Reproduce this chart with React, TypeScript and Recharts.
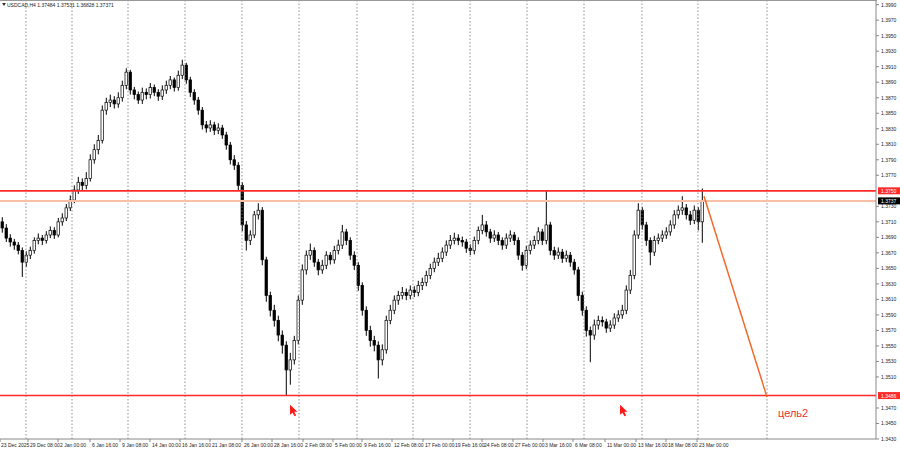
import React from 'react';
import { ComposedChart, Bar, XAxis, YAxis, ReferenceLine, ReferenceDot } from 'recharts';

// USDCAD H4 (aggregated candles), prices
const opens = [
  1.3710,1.3702,1.3689,1.3684,1.3680,1.3673,1.3658,1.3667,1.3673,1.3686,
  1.3689,1.3686,1.3693,1.3699,1.3693,1.3710,1.3715,1.3728,1.3738,1.3751,
  1.3761,1.3757,1.3766,1.3790,1.3803,1.3815,1.3854,1.3864,1.3867,1.3862,
  1.3870,1.3886,1.3903,1.3880,1.3874,1.3867,1.3877,1.3874,1.3883,1.3877,
  1.3872,1.3880,1.3886,1.3893,1.3883,1.3899,1.3912,1.3893,1.3877,1.3867,
  1.3854,1.3835,1.3831,1.3835,1.3828,1.3831,1.3822,1.3809,1.3790,1.3783,
  1.3757,1.3706,1.3686,1.3693,1.3719,1.3725,1.3661,1.3615,1.3596,1.3583,
  1.3564,1.3551,1.3519,1.3532,1.3557,1.3609,1.3648,1.3667,1.3673,1.3658,
  1.3648,1.3654,1.3667,1.3661,1.3673,1.3680,1.3697,1.3686,1.3667,1.3654,
  1.3628,1.3596,1.3570,1.3557,1.3551,1.3532,1.3545,1.3583,1.3596,1.3609,
  1.3615,1.3619,1.3615,1.3622,1.3619,1.3628,1.3632,1.3641,1.3650,1.3658,
  1.3663,1.3671,1.3680,1.3686,1.3689,1.3686,1.3684,1.3676,1.3673,1.3686,
  1.3699,1.3706,1.3697,1.3689,1.3693,1.3686,1.3680,1.3689,1.3693,1.3686,
  1.3667,1.3654,1.3673,1.3680,1.3686,1.3697,1.3686,1.3706,1.3673,1.3667,
  1.3671,1.3663,1.3667,1.3658,1.3648,1.3615,1.3596,1.3570,1.3564,1.3577,
  1.3583,1.3581,1.3573,1.3577,1.3586,1.3590,1.3596,1.3622,1.3641,1.3693,
  1.3725,1.3706,1.3686,1.3671,1.3686,1.3689,1.3693,1.3697,1.3706,1.3719,
  1.3725,1.3728,1.3719,1.3712,1.3725,1.3710,
];
const closes = [
  1.3702,1.3689,1.3684,1.3680,1.3673,1.3658,1.3667,1.3673,1.3686,1.3689,
  1.3686,1.3693,1.3699,1.3693,1.3710,1.3715,1.3728,1.3738,1.3751,1.3761,
  1.3757,1.3766,1.3790,1.3803,1.3815,1.3854,1.3864,1.3867,1.3862,1.3870,
  1.3886,1.3903,1.3880,1.3874,1.3867,1.3877,1.3874,1.3883,1.3877,1.3872,
  1.3880,1.3886,1.3893,1.3883,1.3899,1.3912,1.3893,1.3877,1.3867,1.3854,
  1.3835,1.3831,1.3835,1.3828,1.3831,1.3822,1.3809,1.3790,1.3783,1.3757,
  1.3706,1.3686,1.3693,1.3719,1.3725,1.3661,1.3615,1.3596,1.3583,1.3564,
  1.3551,1.3519,1.3532,1.3557,1.3609,1.3648,1.3667,1.3673,1.3658,1.3648,
  1.3654,1.3667,1.3661,1.3673,1.3680,1.3697,1.3686,1.3667,1.3654,1.3628,
  1.3596,1.3570,1.3557,1.3551,1.3532,1.3545,1.3583,1.3596,1.3609,1.3615,
  1.3619,1.3615,1.3622,1.3619,1.3628,1.3632,1.3641,1.3650,1.3658,1.3663,
  1.3671,1.3680,1.3686,1.3689,1.3686,1.3684,1.3676,1.3673,1.3686,1.3699,
  1.3706,1.3697,1.3689,1.3693,1.3686,1.3680,1.3689,1.3693,1.3686,1.3667,
  1.3654,1.3673,1.3680,1.3686,1.3697,1.3686,1.3706,1.3673,1.3667,1.3671,
  1.3663,1.3667,1.3658,1.3648,1.3615,1.3596,1.3570,1.3564,1.3577,1.3583,
  1.3581,1.3573,1.3577,1.3586,1.3590,1.3596,1.3622,1.3641,1.3693,1.3725,
  1.3706,1.3686,1.3671,1.3686,1.3689,1.3693,1.3697,1.3706,1.3719,1.3725,
  1.3728,1.3719,1.3712,1.3725,1.3710,1.3737,
];
const highs = [
  1.3716,1.3707,1.3694,1.3688,1.3684,1.3677,1.3672,1.3678,1.3690,1.3695,
  1.3693,1.3698,1.3704,1.3703,1.3715,1.3721,1.3733,1.3744,1.3757,1.3768,
  1.3766,1.3774,1.3797,1.3810,1.3822,1.3860,1.3870,1.3874,1.3872,1.3877,
  1.3892,1.3908,1.3906,1.3884,1.3878,1.3883,1.3882,1.3889,1.3887,1.3881,
  1.3886,1.3892,1.3898,1.3896,1.3905,1.3919,1.3915,1.3897,1.3881,1.3871,
  1.3858,1.3840,1.3841,1.3839,1.3837,1.3835,1.3826,1.3813,1.3796,1.3787,
  1.3761,1.3711,1.3699,1.3724,1.3734,1.3729,1.3665,1.3620,1.3603,1.3589,
  1.3570,1.3556,1.3541,1.3563,1.3615,1.3655,1.3673,1.3682,1.3677,1.3662,
  1.3661,1.3672,1.3671,1.3679,1.3687,1.3706,1.3701,1.3690,1.3672,1.3658,
  1.3632,1.3601,1.3576,1.3563,1.3556,1.3552,1.3589,1.3603,1.3615,1.3621,
  1.3626,1.3624,1.3628,1.3627,1.3634,1.3638,1.3647,1.3656,1.3664,1.3670,
  1.3677,1.3686,1.3693,1.3696,1.3694,1.3691,1.3688,1.3681,1.3691,1.3704,
  1.3719,1.3711,1.3701,1.3699,1.3697,1.3690,1.3695,1.3699,1.3697,1.3690,
  1.3671,1.3679,1.3686,1.3692,1.3703,1.3701,1.3751,1.3710,1.3678,1.3677,
  1.3675,1.3673,1.3671,1.3662,1.3652,1.3620,1.3601,1.3575,1.3584,1.3589,
  1.3588,1.3585,1.3583,1.3592,1.3596,1.3603,1.3628,1.3648,1.3699,1.3734,
  1.3729,1.3710,1.3690,1.3692,1.3695,1.3699,1.3703,1.3712,1.3725,1.3731,
  1.3743,1.3733,1.3724,1.3731,1.3729,1.3753,
];
const lows = [
  1.3696,1.3684,1.3678,1.3674,1.3668,1.3639,1.3652,1.3662,1.3669,1.3681,
  1.3680,1.3682,1.3689,1.3688,1.3690,1.3705,1.3711,1.3724,1.3734,1.3746,
  1.3750,1.3752,1.3762,1.3785,1.3797,1.3811,1.3848,1.3858,1.3856,1.3857,
  1.3865,1.3881,1.3874,1.3868,1.3862,1.3862,1.3868,1.3869,1.3872,1.3866,
  1.3867,1.3875,1.3881,1.3878,1.3879,1.3894,1.3888,1.3871,1.3861,1.3848,
  1.3829,1.3825,1.3826,1.3822,1.3823,1.3817,1.3803,1.3784,1.3777,1.3750,
  1.3698,1.3673,1.3680,1.3689,1.3713,1.3654,1.3607,1.3588,1.3575,1.3556,
  1.3540,1.3486,1.3500,1.3526,1.3552,1.3603,1.3642,1.3661,1.3652,1.3641,
  1.3643,1.3649,1.3655,1.3656,1.3668,1.3675,1.3680,1.3661,1.3648,1.3621,
  1.3589,1.3563,1.3549,1.3543,1.3508,1.3525,1.3540,1.3578,1.3591,1.3603,
  1.3610,1.3609,1.3610,1.3613,1.3614,1.3622,1.3627,1.3636,1.3645,1.3653,
  1.3658,1.3666,1.3675,1.3681,1.3680,1.3678,1.3670,1.3667,1.3668,1.3681,
  1.3694,1.3691,1.3683,1.3684,1.3680,1.3674,1.3675,1.3684,1.3680,1.3661,
  1.3647,1.3649,1.3668,1.3675,1.3681,1.3680,1.3681,1.3667,1.3661,1.3662,
  1.3657,1.3658,1.3652,1.3642,1.3608,1.3589,1.3562,1.3529,1.3558,1.3571,
  1.3575,1.3567,1.3568,1.3572,1.3581,1.3585,1.3591,1.3617,1.3636,1.3688,
  1.3700,1.3679,1.3654,1.3666,1.3681,1.3684,1.3688,1.3692,1.3701,1.3714,
  1.3719,1.3713,1.3706,1.3707,1.3699,1.3683,
];

const xTickPos = [-0.5, 6.5, 14, 22, 29.5, 37, 44.5, 52, 60, 67.5, 75.25, 82.75, 90, 97.5,
  105.25, 112.75, 120, 127.75, 135.25, 142.75, 150.75, 158.5, 166, 173.75];
const xTickLabels = ['23 Dec 2025', '29 Dec 08:00', '2 Jan 00:00', '6 Jan 16:00', '9 Jan 08:00',
  '14 Jan 00:00', '16 Jan 16:00', '21 Jan 08:00', '26 Jan 00:00', '28 Jan 16:00', '2 Feb 08:00',
  '5 Feb 00:00', '9 Feb 16:00', '12 Feb 08:00', '17 Feb 00:00', '19 Feb 16:00', '24 Feb 08:00',
  '27 Feb 00:00', '3 Mar 16:00', '6 Mar 08:00', '11 Mar 00:00', '13 Mar 16:00', '18 Mar 08:00',
  '23 Mar 00:00'];
const weekLines = [6, 17.5, 31.5, 45.75, 60, 74.25, 88.75, 102.75, 117, 131.25, 145.5, 160, 174, 191.25];
// 1.375 and 1.349 sit under the price tags, as in the reference
const yTicks = [1.399, 1.397, 1.395, 1.393, 1.391, 1.389, 1.387, 1.385, 1.383, 1.381, 1.379, 1.377,
  1.373, 1.371, 1.369, 1.367, 1.365, 1.363, 1.361, 1.359, 1.357, 1.355, 1.353, 1.351,
  1.347, 1.345, 1.343];

const resistance = 1.3750;
const bid = 1.3737;
const support = 1.3486;
const trendStart = { x: 175.5, y: 1.3743 };
const trendEnd = { x: 191.25, y: 1.3484 };
const arrowPoints = [{ x: 72, y: 1.3474 }, { x: 154.5, y: 1.3474 }];
const targetLabel = { x: 194, y: 1.3458, text: 'цель2' };
const title = 'USDCAD,H4  1.37484 1.37531 1.36828 1.37371';

const data = opens.map((o, i) => ({
  i, o, h: highs[i], l: lows[i], c: closes[i], range: [lows[i], highs[i]],
}));

const FONT = 'Liberation Sans, Arial, sans-serif';

const Candle = (props: any) => {
  const { x, y, width, height, payload } = props;
  if (!payload) return null;
  const { o, h, l, c } = payload;
  const top = Math.min(y, y + height);
  const hgt = Math.abs(height);
  const cx = x + width / 2;
  const py = (p: number) => (h === l ? top : top + ((h - p) / (h - l)) * hgt);
  const bt = py(Math.max(o, c));
  const bb = py(Math.min(o, c));
  const up = c >= o;
  return (
    <g>
      <line x1={cx} x2={cx} y1={top} y2={top + hgt} stroke="#000" strokeWidth={1} />
      <rect x={x} y={bt} width={width} height={Math.max(bb - bt, 0.8)}
        fill={up ? '#fff' : '#000'} stroke="#000" strokeWidth={0.7} />
    </g>
  );
};

const XTick = (props: any) => {
  const { x, y, index } = props;
  const dx = index === 0 ? 1 : 2;
  return (
    <text x={x + dx} y={y + 4} fontSize={5} fontFamily={FONT} fill="#222" textAnchor="start">
      {xTickLabels[index]}
    </text>
  );
};

const YTick = (props: any) => {
  const { x, y, payload } = props;
  return (
    <text x={x} y={y + 2} fontSize={5} fontFamily={FONT} fill="#222" textAnchor="start">
      {Number(payload.value).toFixed(4)}
    </text>
  );
};

const priceTag = (bg: string, text: string) => (props: any) => {
  const vb = props.viewBox || {};
  const xr = (vb.x || 0) + (vb.width || 0);
  const yy = vb.y || 0;
  return (
    <g>
      <rect x={xr + 2} y={yy - 3.5} width={24} height={7} fill={bg} />
      <text x={xr + 5} y={yy + 2} fontSize={5} fontFamily={FONT} fill="#fff">{text}</text>
    </g>
  );
};

const Arrow = (props: any) => {
  const { cx, cy } = props;
  const pts = [[0, 0], [0, 10], [2.5, 7.8], [4.5, 11.5], [6.2, 10.6], [4.3, 7], [7.5, 7]]
    .map(([a, b]) => `${cx + a},${cy + b}`).join(' ');
  return <polygon points={pts} fill="#ff1a1a" />;
};

const TargetText = (props: any) => {
  const { cx, cy } = props;
  return (
    <text x={cx} y={cy} fontSize={11} fontFamily={FONT} fill="#f03030" textAnchor="start">
      {targetLabel.text}
    </text>
  );
};

export default function App() {
  return (
    <div style={{ position: 'absolute', left: 0, top: 0, width: 900, height: 455, background: '#fff' }}>
      <ComposedChart width={900} height={455} data={data} margin={{ top: 0, right: 0, bottom: 0, left: 0 }}>
        <XAxis dataKey="i" type="number" domain={[-0.5, 218.5]} ticks={xTickPos} interval={0}
          allowDataOverflow height={16} tickSize={3} tickMargin={1} tick={<XTick />}
          axisLine={{ stroke: '#888' }} tickLine={{ stroke: '#888' }} />
        <YAxis orientation="right" type="number" domain={[1.343, 1.3996]} ticks={yTicks} interval={0}
          allowDataOverflow width={24} tickSize={3} tickMargin={2} tick={<YTick />}
          axisLine={{ stroke: '#888' }} tickLine={{ stroke: '#888' }} />
        {weekLines.map((w) => (
          <ReferenceLine key={w} x={w} stroke="#777" strokeWidth={0.8} strokeDasharray="1.5 2" />
        ))}
        <ReferenceLine y={bid} stroke="#f7bfa6" strokeWidth={2} label={priceTag('#000', bid.toFixed(4))} />
        <ReferenceLine y={resistance} stroke="#ff2a2a" strokeWidth={1.8} label={priceTag('#ff2a2a', resistance.toFixed(4))} />
        <ReferenceLine y={support} stroke="#ff2a2a" strokeWidth={1.5} label={priceTag('#ff2a2a', support.toFixed(4))} />
        <Bar dataKey="range" shape={Candle} barSize={2.6} isAnimationActive={false} />
        <ReferenceLine segment={[trendStart, trendEnd]} stroke="#f26a2a" strokeWidth={1.5} ifOverflow="visible" />
        {arrowPoints.map((p, k) => (
          <ReferenceDot key={k} x={p.x} y={p.y} r={4} shape={Arrow} ifOverflow="visible" />
        ))}
        <ReferenceDot x={targetLabel.x} y={targetLabel.y} r={4} shape={TargetText} ifOverflow="visible" />
      </ComposedChart>
      <svg width={900} height={12} style={{ position: 'absolute', left: 0, top: 0, pointerEvents: 'none' }}>
        <line x1={0} x2={877} y1={0.5} y2={0.5} stroke="#999" />
        <polygon points="2,3 6,3 4,6" fill="#333" />
        <text x={7} y={7} fontSize={5} fontFamily={FONT} fill="#222">{title}</text>
      </svg>
    </div>
  );
}
